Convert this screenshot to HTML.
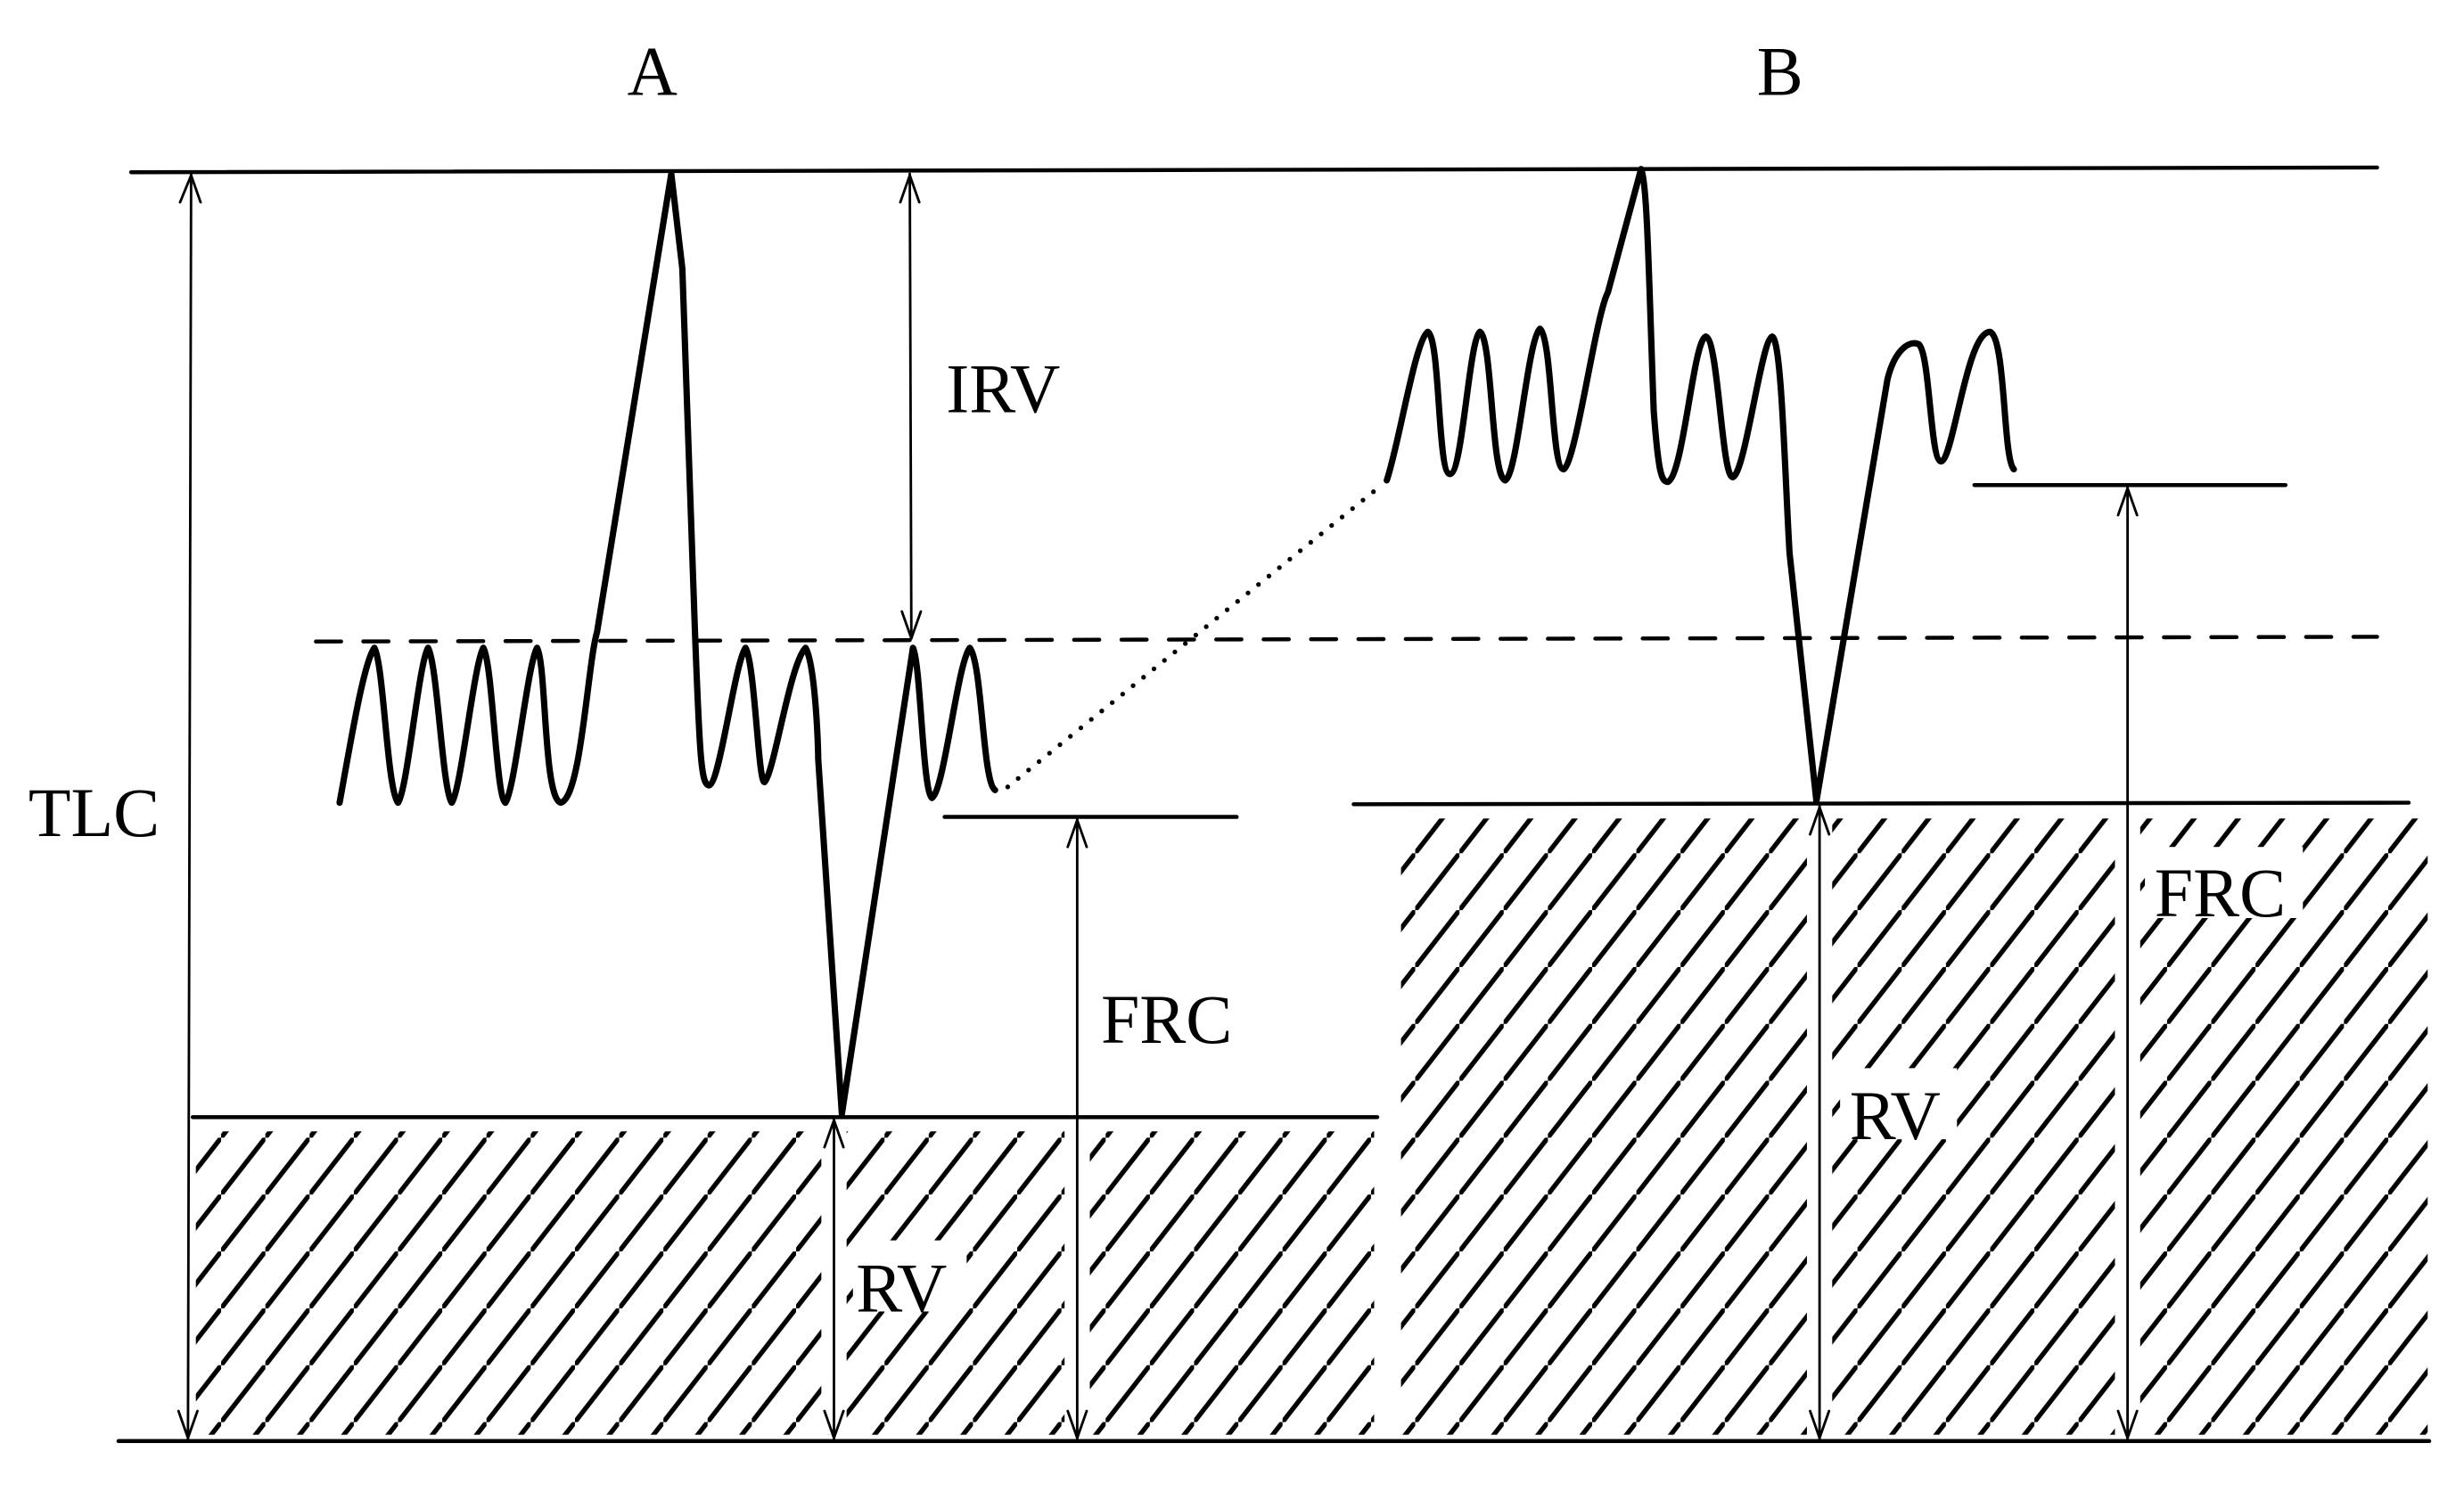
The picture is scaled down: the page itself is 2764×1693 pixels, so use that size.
<!DOCTYPE html>
<html><head><meta charset="utf-8"><style>html,body{margin:0;padding:0;background:#fff;}svg{display:block;}</style></head>
<body>
<svg width="2764" height="1693" viewBox="0 0 1560 955" preserveAspectRatio="none" xmlns="http://www.w3.org/2000/svg">
<defs>
<pattern id="h" patternUnits="userSpaceOnUse" width="28" height="36">
<line x1="-2.33" y1="39" x2="30.33" y2="-3" stroke="#000" stroke-width="3"/>
</pattern>
</defs>
<rect width="1560" height="955" fill="#fff"/>
<rect x="124" y="716" width="746" height="192" fill="url(#h)"/>
<rect x="887" y="518" width="650" height="390" fill="url(#h)"/>
<rect x="520" y="712" width="16" height="196" fill="#fff"/>
<rect x="674" y="712" width="16" height="196" fill="#fff"/>
<rect x="1144" y="514" width="16" height="394" fill="#fff"/>
<rect x="1339" y="514" width="16" height="394" fill="#fff"/>
<rect x="540" y="785" width="72" height="45" fill="#fff"/>
<rect x="1165" y="676" width="74" height="45" fill="#fff"/>
<rect x="1358" y="536" width="100" height="45" fill="#fff"/>
<g stroke="#000" fill="none" stroke-linecap="round" stroke-linejoin="round">
<line x1="83" y1="109" x2="1505" y2="106" stroke-width="2.5"/>
<line x1="75" y1="912" x2="1538" y2="912" stroke-width="2.5"/>
<line x1="200" y1="406" x2="1505" y2="403" stroke-width="2.5" stroke-dasharray="16 14"/>
<line x1="122" y1="707" x2="872" y2="707" stroke-width="2.5"/>
<line x1="857" y1="509" x2="1525" y2="508" stroke-width="2.5"/>
<line x1="598" y1="517" x2="783" y2="517" stroke-width="2.5"/>
<line x1="1250" y1="307" x2="1447" y2="307" stroke-width="2.5"/>
<g stroke-width="1.6">
<line x1="121" y1="110" x2="119" y2="911"/>
<polyline points="114,128 121,111 127,128"/><polyline points="113,893 119,910 125,893"/>
<line x1="576" y1="110" x2="577" y2="404"/>
<polyline points="570,128 576,111 582,128"/><polyline points="571,387 577,404 583,387"/>
<line x1="528" y1="708" x2="528" y2="911"/>
<polyline points="522,726 528,709 534,726"/><polyline points="522,893 528,910 534,893"/>
<line x1="682" y1="518" x2="682" y2="911"/>
<polyline points="676,536 682,519 688,536"/><polyline points="676,893 682,910 688,893"/>
<line x1="1152" y1="510" x2="1152" y2="911"/>
<polyline points="1146,528 1152,511 1158,528"/><polyline points="1146,893 1152,910 1158,893"/>
<line x1="1347" y1="308" x2="1347" y2="911"/>
<polyline points="1341,326 1347,309 1353,326"/><polyline points="1341,893 1347,910 1353,893"/>
</g>
<line x1="638" y1="498" x2="876" y2="306" stroke-width="3" stroke-dasharray="0 8.5"/>
<path stroke-width="4" d="M215,508 C222,470 230,420 237,410 C243,420 245,500 252,508 C258,500 265,420 271,410 C277,420 280,500 286,508 C292,500 300,420 306,410 C312,420 314,505 320,508 C326,500 334,420 340,410 C346,420 344,505 355,508 C368,505 372,420 378,400 L425,110 L432,170 L440,400 C443,480 444,497 449,497 C456,495 465,420 472,410 C478,420 480,495 484,495 C490,490 500,420 510,410 C516,420 518,470 518,480 L533,705 L578,410 C583,420 584,500 590,505 C598,500 606,420 614,410 C622,420 622,495 630,500"/>
<path stroke-width="4" d="M878,304 C886,280 896,215 904,210 C912,215 910,300 918,300 C926,300 930,215 937,210 C945,215 944,302 953,304 C961,300 967,215 975,208 C983,215 982,297 990,297 C998,292 1010,200 1018,185 L1039,107 C1043,115 1044,180 1047,260 C1050,300 1052,305 1056,305 C1066,300 1072,215 1080,213 C1088,215 1090,302 1097,302 C1105,300 1115,215 1122,213 C1128,215 1130,300 1133,350 L1150,507 L1195,240 C1200,220 1210,215 1215,218 C1222,225 1222,292 1229,292 C1237,290 1245,210 1260,210 C1270,215 1268,290 1275,297"/>
</g>
<g font-family="Liberation Serif, serif" font-size="44" fill="#000">
<text x="413" y="60" text-anchor="middle">A</text>
<text x="1127" y="60" text-anchor="middle">B</text>
<text x="18" y="529">TLC</text>
<text x="599" y="261">IRV</text>
<text x="697" y="660">FRC</text>
<text x="542" y="830">RV</text>
<text x="1171" y="721">RV</text>
<text x="1364" y="580">FRC</text>
</g>
</svg>
</body></html>
